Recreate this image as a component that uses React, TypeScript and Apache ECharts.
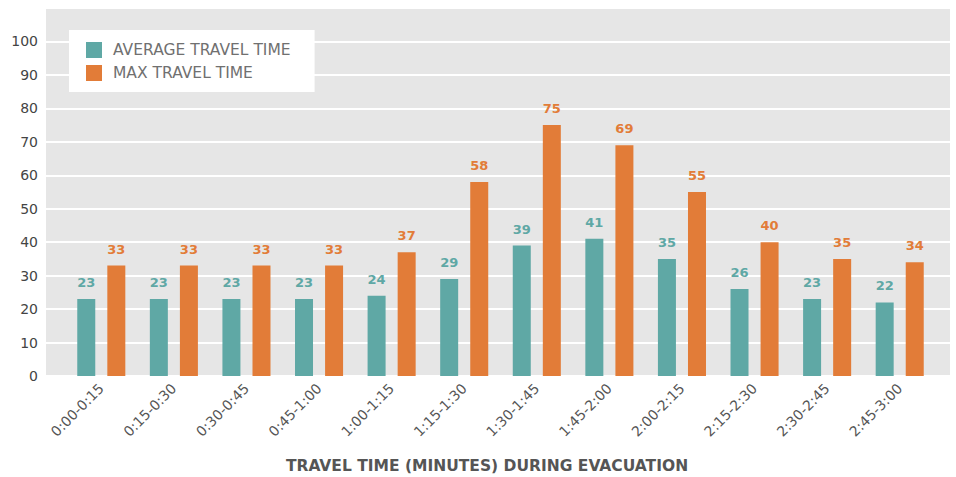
import React, { useEffect, useRef } from "react";
import * as echarts from "echarts";

const categories = ["0:00-0:15", "0:15-0:30", "0:30-0:45", "0:45-1:00", "1:00-1:15", "1:15-1:30", "1:30-1:45", "1:45-2:00", "2:00-2:15", "2:15-2:30", "2:30-2:45", "2:45-3:00"];
const averageTravel = [23, 23, 23, 23, 24, 29, 39, 41, 35, 26, 23, 22];
const maxTravel = [33, 33, 33, 33, 37, 58, 75, 69, 55, 40, 35, 34];
const seriesNames = ["AVERAGE TRAVEL TIME", "MAX TRAVEL TIME"];
const axisTitle = "TRAVEL TIME (MINUTES) DURING EVACUATION";

const TEAL = "#5fa8a5";
const ORANGE = "#e27c38";
const FONT = "'DejaVu Sans', sans-serif";

export default function App() {
  const ref = useRef<HTMLDivElement>(null);
  useEffect(() => {
    if (!ref.current) return;
    const chart = echarts.init(ref.current, null, { renderer: "svg" });
    const yCommon = { type: "value", min: 0, max: 110, interval: 10 };
    chart.setOption({
      animation: false,
      grid: [
        { left: 46, right: 6, top: 8, bottom: 101, show: true, backgroundColor: "#e6e6e6", borderWidth: 0 },
        { left: 65, right: 20, top: 8, bottom: 101 },
      ],
      legend: {
        orient: "vertical",
        left: 69,
        top: 30,
        backgroundColor: "#ffffff",
        padding: [12, 24, 11, 17],
        itemWidth: 16,
        itemHeight: 16,
        itemGap: 7,
        icon: "rect",
        data: seriesNames,
        textStyle: { color: "#707070", fontSize: 15.5, fontFamily: FONT, padding: [0, 0, 0, 6] },
      },
      xAxis: [
        { type: "category", gridIndex: 0, data: categories, show: false },
        {
          type: "category",
          gridIndex: 1,
          data: categories,
          axisLine: { show: false },
          axisTick: { show: false },
          axisLabel: { rotate: 45, color: "#555", fontSize: 14, fontFamily: FONT, margin: 10, interval: 0 },
        },
      ],
      yAxis: [
        {
          ...yCommon,
          gridIndex: 0,
          axisLine: { show: false },
          axisTick: { show: false },
          splitLine: { show: true, lineStyle: { color: "#ffffff", width: 2 } },
          axisLabel: {
            color: "#444",
            fontSize: 14,
            fontFamily: FONT,
            margin: 8,
            showMaxLabel: false,
            formatter: (v: number) => (v > 100 ? "" : String(v)),
          },
        },
        { ...yCommon, gridIndex: 1, show: false, splitLine: { show: false } },
      ],
      series: [
        {
          name: seriesNames[0],
          type: "bar",
          xAxisIndex: 1,
          yAxisIndex: 1,
          data: averageTravel,
          barWidth: 18,
          barGap: "67%",
          itemStyle: { color: TEAL },
          label: { show: true, position: "top", distance: 10, color: TEAL, fontSize: 13, fontWeight: "bold", fontFamily: FONT },
        },
        {
          name: seriesNames[1],
          type: "bar",
          xAxisIndex: 1,
          yAxisIndex: 1,
          data: maxTravel,
          barWidth: 18,
          barGap: "67%",
          itemStyle: { color: ORANGE },
          label: { show: true, position: "top", distance: 10, color: ORANGE, fontSize: 13, fontWeight: "bold", fontFamily: FONT },
        },
      ],
      graphic: [
        {
          type: "text",
          x: 487,
          y: 466,
          style: {
            text: axisTitle,
            fill: "#555",
            fontSize: 15.5,
            fontWeight: "bold",
            fontFamily: FONT,
            textAlign: "center",
            textVerticalAlign: "middle",
          },
        },
      ],
    });
    return () => chart.dispose();
  }, []);
  return <div ref={ref} style={{ width: 956, height: 477, position: "absolute", left: 0, top: 0 }} />;
}
